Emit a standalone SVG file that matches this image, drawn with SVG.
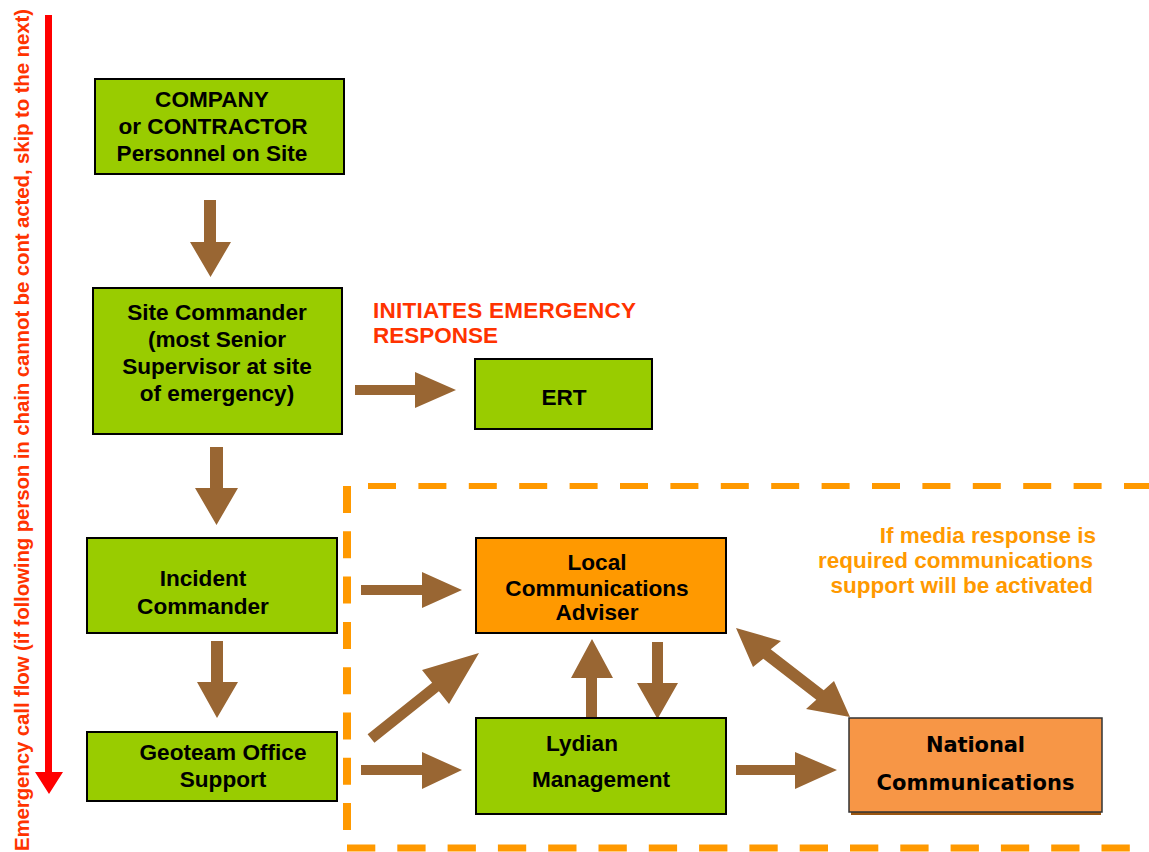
<svg xmlns="http://www.w3.org/2000/svg" width="1149" height="852" viewBox="0 0 1149 852">
<style>
.g{fill:#99CC00;stroke:#000;stroke-width:2}
.o{fill:#FF9900;stroke:#000;stroke-width:2}
.t{font-family:"Liberation Sans",Arial,sans-serif;font-weight:bold;font-size:22.6px;fill:#000;text-anchor:middle}
.arr{fill:#996633}
.dash{stroke:#FF9900;fill:none}
</style>
<rect width="1149" height="852" fill="#fff"/>
<g id="flow-indicator">
<text font-family="'Liberation Sans',Arial,sans-serif" font-weight="bold" font-size="20.5" fill="#FF3300" transform="translate(29,851) rotate(-90)" textLength="842">Emergency call flow (if following person in chain cannot be cont acted, skip to the next)</text>
<polygon fill="#FF0000" points="45,15 52,15 52,772 63,772 49,794 35,772 45,772"/>
</g>
<g id="media-zone">
<line class="dash" x1="368" y1="486" x2="1149" y2="486" stroke-width="6" stroke-dasharray="28 22.4"/>
<line class="dash" x1="347" y1="486" x2="347" y2="846" stroke-width="8" stroke-dasharray="27 18.3"/>
<line class="dash" x1="347" y1="848" x2="1135" y2="848" stroke-width="7" stroke-dasharray="28.3 22"/>
</g>
<g id="connectors">
<polygon class="arr" points="204,200 216,200 216,242 231,242 210.5,277 190,242 204,242"/>
<polygon class="arr" points="210,447 223,447 223,488 238,488 216.5,525 195,488 210,488"/>
<polygon class="arr" points="211,641 223,641 223,682 238,682 217,718 197,682 211,682"/>
<polygon class="arr" points="355,385 415,385 415,372 456,390 415,408 415,395 355,395"/>
<polygon class="arr" points="361,585 422,585 422,572 462,590 422,608 422,595 361,595"/>
<polygon class="arr" points="361,765 422,765 422,752 462,770 422,789 422,775 361,775"/>
<polygon class="arr" points="736,765 795,765 795,752 837,770 795,789 795,775 736,775"/>
<polygon class="arr" points="586,718 586,678 571,678 592,639 613,678 597,678 597,718"/>
<polygon class="arr" points="652,642 663,642 663,683 678,683 657.5,719 637,683 652,683"/>
<polygon class="arr" points="367.6,734.2 432.1,682.7 422,670 479,653 449,704 438.9,691.3 374.4,742.8"/>
<polygon class="arr" points="736,628 781,641 770.7,649.3 823.7,690.3 834,681 850,717 806,709 816.3,699.7 763.3,658.7 753,667"/>
</g>
<g id="company">
<rect class="g" x="95" y="79" width="249" height="95"/>
<text class="t" x="212" y="107">COMPANY</text>
<text class="t" x="213" y="134">or CONTRACTOR</text>
<text class="t" x="212" y="161">Personnel on Site</text>
</g>
<g id="site-commander">
<rect class="g" x="93" y="288" width="249" height="146"/>
<text class="t" x="217" y="320">Site Commander</text>
<text class="t" x="217" y="347">(most Senior</text>
<text class="t" x="217" y="374">Supervisor at site</text>
<text class="t" x="217" y="401">of emergency)</text>
</g>
<g id="initiates-label">
<text font-family="'Liberation Sans',Arial,sans-serif" font-weight="bold" font-size="22.5" fill="#FF3300" x="373" y="318" textLength="263">INITIATES EMERGENCY</text>
<text font-family="'Liberation Sans',Arial,sans-serif" font-weight="bold" font-size="22.5" fill="#FF3300" x="373" y="343">RESPONSE</text>
</g>
<g id="ert">
<rect class="g" x="475" y="359" width="177" height="70"/>
<text class="t" x="564" y="405">ERT</text>
</g>
<g id="incident-commander">
<rect class="g" x="87" y="538" width="250" height="95"/>
<text class="t" x="203" y="586">Incident</text>
<text class="t" x="203" y="614">Commander</text>
</g>
<g id="geoteam">
<rect class="g" x="87" y="732" width="250" height="69"/>
<text class="t" x="223" y="760">Geoteam Office</text>
<text class="t" x="223" y="787">Support</text>
</g>
<g id="local-comms">
<rect class="o" x="476" y="538" width="250" height="95"/>
<text class="t" x="597" y="570">Local</text>
<text class="t" x="597" y="596">Communications</text>
<text class="t" x="597" y="620">Adviser</text>
</g>
<g id="lydian">
<rect class="g" x="476" y="718" width="250" height="96"/>
<text class="t" x="582" y="751">Lydian</text>
<text class="t" x="601" y="787">Management</text>
</g>
<g id="national-comms">
<rect x="851" y="810" width="250" height="5" fill="#995511"/>
<rect x="849" y="718" width="253" height="94" fill="#F79646" stroke="#333" stroke-width="1.5"/>
<text font-family="'DejaVu Sans',Verdana,sans-serif" font-weight="bold" font-size="21" text-anchor="middle" x="975.5" y="752" textLength="99">National</text>
<text font-family="'DejaVu Sans',Verdana,sans-serif" font-weight="bold" font-size="21" text-anchor="middle" x="975.5" y="790" textLength="198">Communications</text>
</g>
<g id="media-note">
<text font-family="'Liberation Sans',Arial,sans-serif" font-weight="bold" font-size="22.5" fill="#FF9900" text-anchor="end" x="1096" y="543">If media response is</text>
<text font-family="'Liberation Sans',Arial,sans-serif" font-weight="bold" font-size="22.5" fill="#FF9900" text-anchor="end" x="1093" y="568">required communications</text>
<text font-family="'Liberation Sans',Arial,sans-serif" font-weight="bold" font-size="22.5" fill="#FF9900" text-anchor="end" x="1093" y="593">support will be activated</text>
</g>
</svg>
